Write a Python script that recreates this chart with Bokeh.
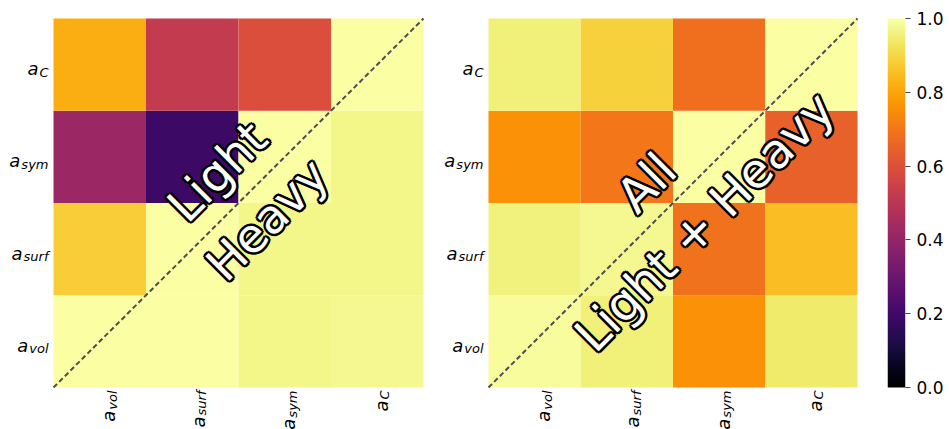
import numpy as np
from bokeh.plotting import figure
from bokeh.models import (LinearColorMapper, Range1d, ColumnDataSource,
                          FixedTicker, PrintfTickFormatter, LinearAxis)
from bokeh.layouts import row
from bokeh.palettes import Inferno256
from bokeh.embed import file_html
from bokeh.resources import INLINE
from bokeh.core.properties import value

# ---------------- data ----------------
params = ["vol", "surf", "sym", "C"]          # subscripts of a_X, order left->right / bottom->top
# rows = y category (vol, surf, sym, C from bottom), columns = x category (vol, surf, sym, C)
left_vals = [
    [1.00, 1.00, 0.97, 0.98],
    [0.88, 1.00, 0.97, 0.97],
    [0.42, 0.19, 1.00, 0.97],
    [0.82, 0.52, 0.59, 1.00],
]
right_vals = [
    [0.99, 0.955, 0.76, 0.945],
    [0.96, 0.98, 0.69, 0.85],
    [0.76, 0.70, 1.00, 0.645],
    [0.955, 0.89, 0.68, 1.00],
]
left_texts = ["Light", "Heavy"]
right_texts = ["All", "Light + Heavy"]
cbar_ticks = [0.0, 0.2, 0.4, 0.6, 0.8, 1.0]

FONT = "DejaVu Sans"
mapper = LinearColorMapper(palette=Inferno256, low=0.0, high=1.0)

# approximate advance widths (em) of DejaVu Sans glyphs
CW = dict(a=.613, C=.698, s=.521, y=.592, m=.974, u=.634, r=.411, f=.352, v=.592, o=.612, l=.278)
MAIN = 18
SUB = 13
H = 429              # figure height (px)
TOP, BOT = 18, 387   # heatmap top / bottom in screen px
XLAB_SHIFT = [9, 6, 4, 4]   # px shift right of rotated x labels (per column)


def subw(s):
    return sum(CW[c] for c in s) * SUB + 1


def heatmap(vals, texts, text_pos, width, hx0, hx1, big_size):
    """width: figure width; hx0/hx1: heatmap left/right edge in figure px."""
    n = len(params)
    kx = (hx1 - hx0) / n           # px per data unit
    ky = (BOT - TOP) / n
    xr = Range1d(-hx0 / kx, n + (width - hx1) / kx)
    yr = Range1d(-(H - BOT) / ky, n + TOP / ky)
    p = figure(width=width, height=H, x_range=xr, y_range=yr,
               x_axis_location=None, y_axis_location=None,
               toolbar_location=None, output_backend="svg",
               min_border=0)
    p.grid.visible = False
    p.outline_line_color = None
    xs, ys, cs = [], [], []
    for j in range(n):
        for i in range(n):
            xs.append(i + 0.5)
            ys.append(j + 0.5)
            cs.append(vals[j][i])
    src = ColumnDataSource(dict(x=xs, y=ys, v=cs))
    p.rect(x="x", y="y", width=1, height=1, source=src,
           fill_color={"field": "v", "transform": mapper}, line_color=None)
    p.line(x=[0, n], y=[0, n], line_color="#4d4d4d", line_width=2, line_dash="5 3")

    tsrc = ColumnDataSource(dict(x=[t[0] for t in text_pos], y=[t[1] for t in text_pos], t=texts))
    # black outline drawn as offset copies, then white text on top
    for dx, dy in [(-2.5, 0), (2.5, 0), (0, -2.5), (0, 2.5),
                   (-1.8, -1.8), (1.8, 1.8), (-1.8, 1.8), (1.8, -1.8)]:
        p.text(x="x", y="y", text="t", source=tsrc, angle=np.pi / 4,
               x_offset=dx, y_offset=dy,
               text_font=value(FONT), text_font_size=big_size, text_color="black",
               text_align="center", text_baseline="middle")
    p.text(x="x", y="y", text="t", source=tsrc, angle=np.pi / 4,
           text_font=value(FONT), text_font_size=big_size, text_color="white",
           text_align="center", text_baseline="middle")

    common = dict(text_font=value(FONT), text_font_style="italic",
                  text_baseline="alphabetic", text_color="black", text_align="right")
    # y tick labels  a_X (drawn in data space left of the cells)
    ya = ColumnDataSource(dict(
        x=[-(5 + subw(s)) / kx for s in params],
        y=[j + 0.5 - 4 / ky for j in range(n)], t=["a"] * n))
    ysb = ColumnDataSource(dict(
        x=[-5 / kx] * n, y=[j + 0.5 - 7.5 / ky for j in range(n)], t=params))
    p.text(x="x", y="y", text="t", source=ya, text_font_size=f"{MAIN}px", **common)
    p.text(x="x", y="y", text="t", source=ysb, text_font_size=f"{SUB}px", **common)
    # x tick labels rotated (reading upwards)
    xa = ColumnDataSource(dict(
        x=[i + 0.5 + XLAB_SHIFT[i] / kx for i in range(n)],
        y=[-(3 + subw(s)) / ky for s in params], t=["a"] * n))
    xsb = ColumnDataSource(dict(
        x=[i + 0.5 + (XLAB_SHIFT[i] + 3.5) / kx for i in range(n)], y=[-3 / ky] * n, t=params))
    p.text(x="x", y="y", text="t", source=xa, angle=np.pi / 2,
           text_font_size=f"{MAIN}px", **common)
    p.text(x="x", y="y", text="t", source=xsb, angle=np.pi / 2,
           text_font_size=f"{SUB}px", **common)
    return p


p1 = heatmap(left_vals, left_texts, [(1.77, 2.34), (2.31, 1.82)], 440, 53, 423, "47px")
p2 = heatmap(right_vals, right_texts, [(1.71, 2.22), (2.34, 1.80)], 430, 48, 417, "48px")

# colour bar figure (x 870..949); frame spans full height so row alignment keeps heatmaps intact
cby = (BOT - TOP)
p3 = figure(width=79, height=H,
            x_range=Range1d(0, 1),
            y_range=Range1d(-(H - BOT) / cby, 1 + TOP / cby),
            x_axis_location=None, y_axis_location=None,
            toolbar_location=None, output_backend="svg",
            min_border_left=17, min_border_right=44, min_border_top=0,
            min_border_bottom=0)
p3.grid.visible = False
p3.outline_line_color = None
grad = np.linspace(0, 1, 256).reshape(256, 1)
p3.image(image=[grad], x=0, y=0, dw=1, dh=1, color_mapper=mapper)
ax = LinearAxis(ticker=FixedTicker(ticks=cbar_ticks),
                formatter=PrintfTickFormatter(format="%.1f"))
ax.axis_line_color = None
ax.major_tick_in = 0
ax.major_tick_out = 5
ax.major_tick_line_color = "#444444"
ax.minor_tick_line_color = None
ax.major_label_standoff = 6
ax.major_label_text_font = FONT
ax.major_label_text_font_size = "17px"
ax.major_label_text_color = "black"
p3.add_layout(ax, "right")

layout = row(p1, p2, p3)
open("out.html", "w").write(file_html(layout, INLINE))
